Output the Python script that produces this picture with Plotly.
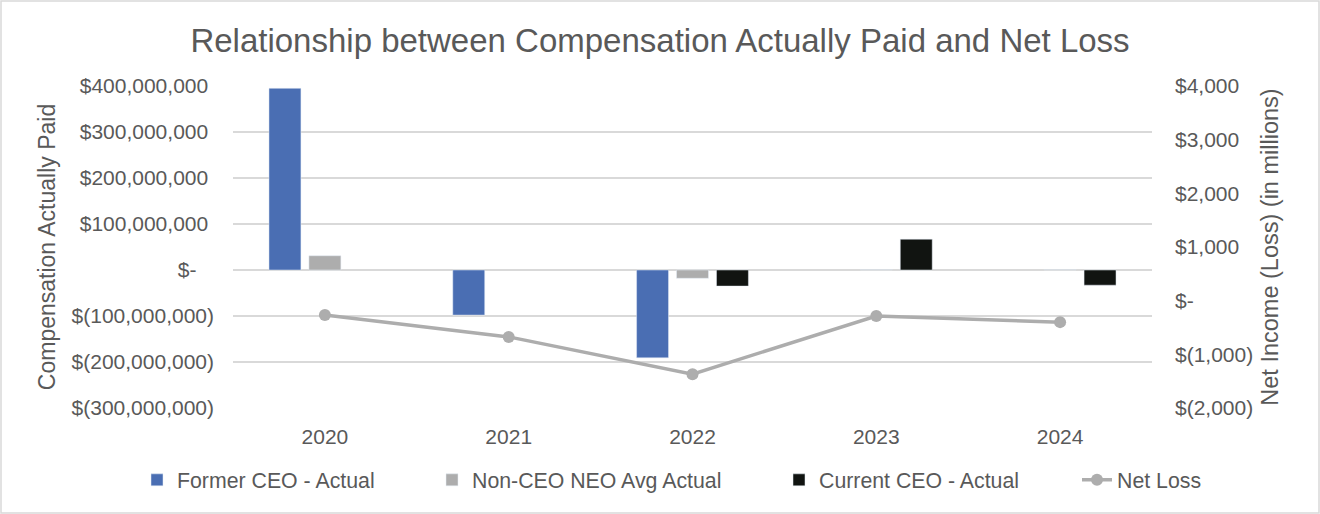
import plotly.graph_objects as go

years = ["2020", "2021", "2022", "2023", "2024"]
former_ceo = [395e6, -98e6, -191e6, None, None]
non_ceo_neo = [31e6, None, -18e6, 1.2e6, 1.0e6]
current_ceo = [None, None, -35e6, 67e6, -33e6]
net_loss = [-266, -675, -1370, -285, -400]

left_ticks = [400e6, 300e6, 200e6, 100e6, 0, -100e6, -200e6, -300e6]
left_text = ["$400,000,000\u00a0", "$300,000,000\u00a0", "$200,000,000\u00a0", "$100,000,000\u00a0",
             "$-\u00a0\u00a0\u00a0", "$(100,000,000)", "$(200,000,000)", "$(300,000,000)"]
right_ticks = [4000, 3000, 2000, 1000, 0, -1000, -2000]
right_text = ["$4,000", "$3,000", "$2,000", "$1,000", "$-", "$(1,000)", "$(2,000)"]

W, H = 1320, 514
ML, MR, MT, MB = 233, 168, 86, 106
PW, PH = W - ML - MR, H - MT - MB

FONT = "Arial, Liberation Sans, sans-serif"
TXT = "#595959"

# legend text start x positions (px) for each entry
legend_text_x = [177, 472, 819, 1117]

fig = go.Figure()
fig.add_trace(go.Bar(x=years, y=former_ceo, name="Former CEO - Actual", marker_color="#4A6EB3",
                     legend="legend"))
fig.add_trace(go.Bar(x=years, y=non_ceo_neo, name="Non-CEO NEO Avg Actual", marker_color="#ADADAD",
                     legend="legend2"))
fig.add_trace(go.Bar(x=years, y=current_ceo, name="Current CEO - Actual", marker_color="#111411",
                     legend="legend3"))
fig.add_trace(go.Scatter(x=years, y=net_loss, name="Net Loss", yaxis="y2", mode="lines+markers",
                         line=dict(color="#ADADAD", width=3.5), marker=dict(size=12, color="#ADADAD"),
                         legend="legend4"))

def leg(tx):
    return dict(orientation="h", xref="container", yref="container",
                x=(tx - 40) / W, xanchor="left", y=1 - 480 / H, yanchor="middle",
                font=dict(size=21.3, color=TXT, family=FONT), bgcolor="rgba(0,0,0,0)")

fig.update_layout(
    width=W, height=H,
    margin=dict(l=ML, r=MR, t=MT, b=MB),
    paper_bgcolor="white", plot_bgcolor="white",
    font=dict(family=FONT, color=TXT, size=21),
    barmode="group", bargap=0.348, bargroupgap=0.2,
    title=dict(text="Relationship between Compensation Actually Paid and Net Loss",
               x=0.5, xanchor="center", y=1 - 40 / H, yanchor="middle",
               font=dict(size=33, color=TXT, family=FONT)),
    xaxis=dict(showgrid=False, showline=False, ticks="", tickfont=dict(size=21, color=TXT),
               ticklabelstandoff=14),
    yaxis=dict(range=[-300e6, 400e6], tickvals=left_ticks, ticktext=left_text,
               showgrid=True, gridcolor="#D9D9D9", gridwidth=2,
               zeroline=True, zerolinecolor="#D9D9D9", zerolinewidth=2,
               ticks="", ticklabelstandoff=18, tickfont=dict(size=21, color=TXT),
               title=dict(text="Compensation Actually Paid", font=dict(size=23, color=TXT), standoff=9)),
    yaxis2=dict(range=[-2000, 4000], tickvals=right_ticks, ticktext=right_text,
                overlaying="y", side="right", showgrid=False, zeroline=False,
                ticks="", ticklabelstandoff=22, tickfont=dict(size=21, color=TXT),
                title=dict(text="Net Income (Loss) (in millions)", font=dict(size=23.5, color=TXT), standoff=9)),
    legend=leg(legend_text_x[0]),
    legend2=leg(legend_text_x[1]),
    legend3=leg(legend_text_x[2]),
    legend4=leg(legend_text_x[3]),
    showlegend=True,
)

fig.add_shape(type="rect", xref="paper", yref="paper",
              x0=(1 - ML) / PW, x1=(W - 1 - ML) / PW,
              y0=(MT + PH - (H - 1)) / PH, y1=(MT + PH - 1) / PH,
              line=dict(color="#D9D9D9", width=1.5), fillcolor="rgba(0,0,0,0)", layer="below")

fig.write_html("out.html", config={"displayModeBar": False},
               post_script="document.body.style.margin='0';document.body.style.overflow='hidden';")
